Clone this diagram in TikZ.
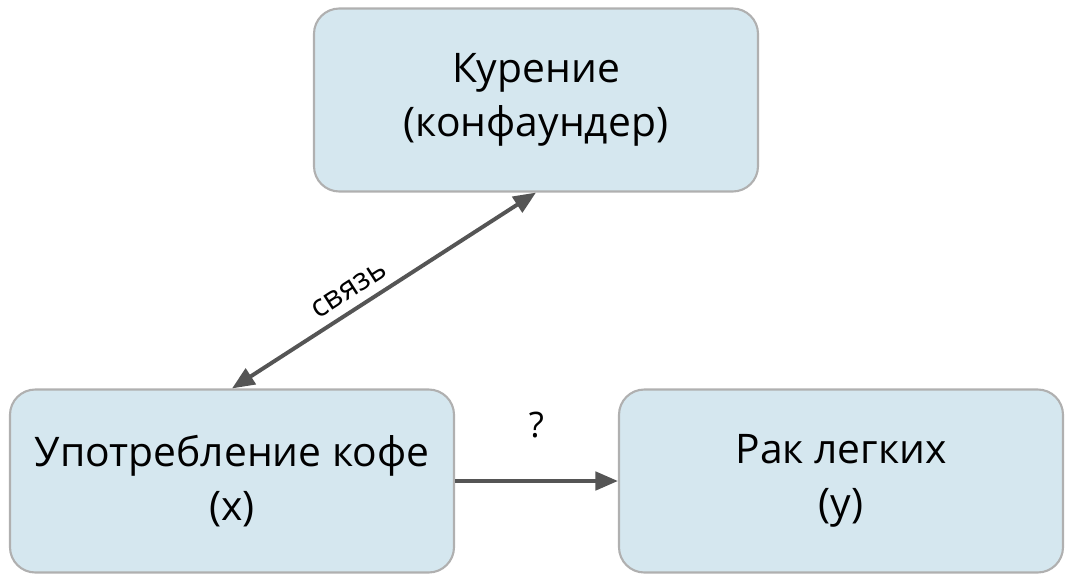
\documentclass[tikz,border=0pt]{standalone}
\usepackage{fontspec}
\setmainfont{Open Sans}
\usetikzlibrary{arrows.meta, positioning}
\definecolor{boxfill}{HTML}{D5E7EF}
\definecolor{boxline}{HTML}{B0B0B0}
\definecolor{arrowgray}{HTML}{555555}
\tikzset{
  box/.style={draw=boxline, line width=1.5pt, fill=boxfill, rounded corners=18pt,
    minimum width=444*0.025cm, minimum height=183*0.025cm, align=center,
    font=\fontsize{29}{38}\selectfont},
  link/.style={draw=arrowgray, line width=2.8pt, -{Triangle[length=16pt,width=13pt]}},
}
\begin{document}
\begin{tikzpicture}[x=0.025cm, y=-0.025cm]
\useasboundingbox (0,0) rectangle (1066,580);
\node[box] (smoke) at (536,100) {Курение\\(конфаундер)};
\node[box] (coffee) at (232,481) {Употребление кофе\\(x)};
\node[box] (cancer) at (841,481) {Рак легких\\(y)};
\draw[link, {Triangle[length=16pt,width=13pt]}-{Triangle[length=16pt,width=13pt]}]
  (coffee.north) -- node[pos=0.42, above=3pt, sloped, font=\fontsize{22}{26}\selectfont] {связь} (smoke.south);
\draw[link] (coffee.east) -- node[above=26pt, font=\fontsize{25}{28}\selectfont] {?} (cancer.west);
\end{tikzpicture}
\end{document}
